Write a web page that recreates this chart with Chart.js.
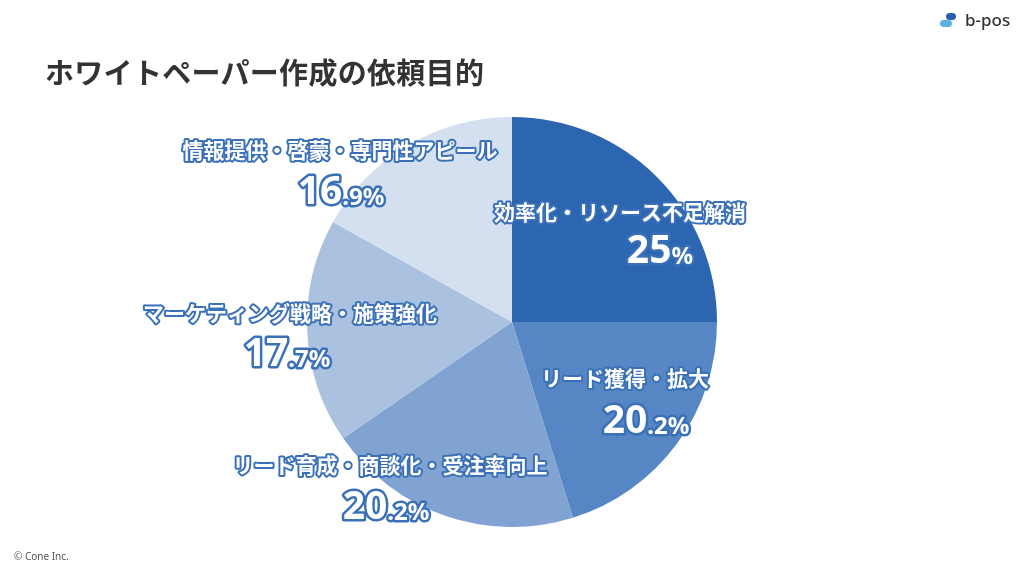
<!DOCTYPE html>
<html><head><meta charset="utf-8">
<script src="https://cdn.jsdelivr.net/npm/chart.js@4"></script>
<style>
html,body{margin:0;padding:0;background:#fff;width:1024px;height:576px;overflow:hidden;font-family:"Noto Sans CJK JP","Noto Sans",sans-serif}
#wrap{position:absolute;left:0;top:0;width:1024px;height:576px}
#title{position:absolute;left:45px;top:50px;font-size:29px;font-weight:700;color:#333;letter-spacing:0.3px;white-space:nowrap}
#foot{position:absolute;left:14px;top:549px;font-size:10px;color:#555;font-family:"Noto Sans",sans-serif}
#logo{position:absolute;left:940px;top:9px;height:24px;width:84px}
#logo .t{position:absolute;left:25px;top:-1px;font-size:17px;font-family:"Noto Sans",sans-serif;color:#333;font-weight:500;white-space:nowrap}
#logo .a{position:absolute;left:6px;top:4px;width:10px;height:7px;background:#2a5fae;border-radius:4px}
#logo .b{position:absolute;left:0px;top:11px;width:12px;height:7px;background:#5ab4e0;border-radius:4px}
</style></head><body>
<div id="wrap"><canvas id="c" width="1024" height="576"></canvas></div>
<div id="title">ホワイトペーパー作成の依頼目的</div>
<div id="foot">© Cone Inc.</div>
<div id="logo"><div class="a"></div><div class="b"></div><div class="t">b-pos</div></div>
<script>
const categories=["効率化・リソース不足解消","リード獲得・拡大","リード育成・商談化・受注率向上","マーケティング戦略・施策強化","情報提供・啓蒙・専門性アピール"];
const values=[25,20.2,20.2,17.7,16.9];
const colors=["#2c65b0","#5686c3","#80a3d2","#abc1e0","#d4e0f0"];
const labelPos=[[620,212,660,252],[625,378,646,422],[390,465,386,508],[290,313,287,355],[340,150,341,193]];
const labelPlugin={id:'lbl',afterDraw(chart){
  const ctx=chart.ctx;ctx.save();
  ctx.lineJoin='round';ctx.textBaseline='middle';
  values.forEach((v,i)=>{
    const [lx,ly,nx,ny]=labelPos[i];
    ctx.font='bold 21px "Noto Sans CJK JP"';ctx.textAlign='center';
    ctx.strokeStyle='#3a70b8';ctx.lineWidth=4;ctx.strokeText(categories[i],lx,ly);
    ctx.fillStyle='#fff';ctx.fillText(categories[i],lx,ly);
    const s=String(v);const ip=s.split('.')[0];const rest=(s.includes('.')?'.'+s.split('.')[1]:'')+'%';
    const bf='bold 39px "Noto Sans"',sf='bold 24px "Noto Sans"';
    ctx.font=bf;const w1=ctx.measureText(ip).width;ctx.font=sf;const w2=ctx.measureText(rest).width;
    const x0=nx-(w1+w2)/2;ctx.textAlign='left';
    ctx.lineWidth=5;
    ctx.font=bf;ctx.strokeText(ip,x0,ny);ctx.fillText(ip,x0,ny);
    ctx.font=sf;ctx.strokeText(rest,x0+w1,ny+5);ctx.fillText(rest,x0+w1,ny+5);
  });
  ctx.restore();
}};
new Chart(document.getElementById('c'),{type:'pie',
 data:{labels:categories,datasets:[{data:values,backgroundColor:colors,borderWidth:0}]},
 options:{responsive:false,animation:false,layout:{padding:{top:117,bottom:49}},
  plugins:{legend:{display:false},tooltip:{enabled:false}}},
 plugins:[labelPlugin]});
</script></body></html>
